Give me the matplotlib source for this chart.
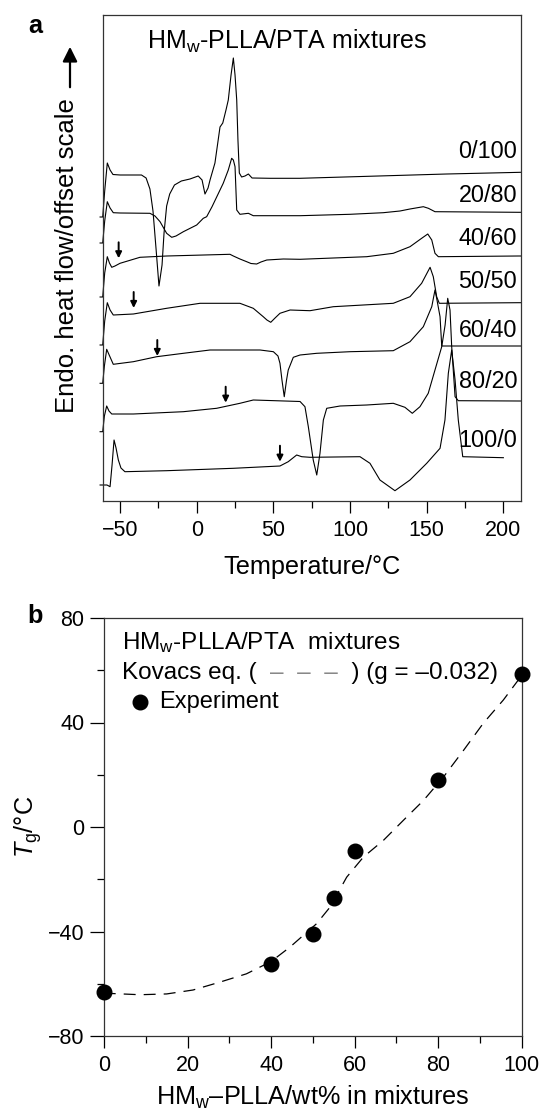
import matplotlib
matplotlib.use('Agg')
import matplotlib.pyplot as plt
from matplotlib.ticker import MultipleLocator

plt.rcParams['font.family'] = ['Liberation Sans', 'DejaVu Sans']
plt.rcParams['mathtext.fontset'] = 'custom'
plt.rcParams['mathtext.rm'] = 'Liberation Sans'
plt.rcParams['mathtext.it'] = 'Liberation Sans:italic'
plt.rcParams['mathtext.bf'] = 'Liberation Sans:bold'
plt.rcParams['lines.scale_dashes'] = False

# ---------------- Panel a data: DSC curves (T in deg C, heat flow in offset units) ----------
t_0_100 = [-63, -61.3, -60, -58.3, -56.5, -54.6, -50, -36, -33, -30.5, -28.5, -26.5, -24.6, -22.6, -21.3,
           -19.6, -17.6, -14.5, -10, -4.4, 1.0, 3.5, 5.4, 7.4, 8.7, 11.9, 15.2, 17.0, 19.1, 20.6, 22.4,
           23.9, 25.0, 26.1, 26.9, 27.8, 29.3, 31.5, 33.7, 36.1, 47.8, 67.4, 163, 211.3]
h_0_100 = [284, 284, 310, 338, 331, 326.5, 326, 326, 323, 312, 290, 252, 215, 236, 268,
           295, 307, 316, 320, 322, 325, 321, 307, 313, 321, 338, 374, 378, 391, 401, 426,
           443, 426, 401, 361, 328, 324, 325, 327, 323, 322.7, 322.7, 327, 328.7]

t_20_80 = [-63, -61.3, -60, -58.3, -56.5, -54.4, -50, -30.5, -27.2, -23.9, -19.6, -16.3, -13.5, -8.7, 0,
           4.3, 6.5, 10.0, 17.3, 20.6, 22.8, 23.9, 25.0, 26.1, 28.2, 33.7, 36.9, 67.4, 100, 121.7,
           132.6, 139.1, 147.8, 151.1, 155.4, 209.8, 211.3]
h_20_80 = [258, 258, 280, 299.3, 293, 288.3, 288, 287.7, 285, 279.3, 267.7, 263.7, 265, 269.3, 276,
           282.7, 284.3, 294.3, 317.7, 331, 342.7, 341, 334.3, 291, 286.7, 287.7, 285.3, 285.3, 286.7, 288.3,
           290, 292, 294.3, 292.7, 289.3, 288.7, 288.7]

t_40_60 = [-63, -61.3, -60, -58.3, -56.9, -55.4, -53.3, -50, -37, -19.6, 21.7, 23.9, 28.2, 32.6, 35.4,
           39.1, 41.9, 45.7, 56.5, 67.4, 110.9, 128.2, 139.1, 146.7, 150.7, 153.3, 155.4, 157.6, 209.8, 211.3]
h_40_60 = [204, 204, 228, 244.3, 238, 233.7, 235, 237.7, 243.7, 245, 246.7, 245, 242, 239.3, 237.5,
           237, 239, 241, 242, 241.7, 244.3, 247.7, 254.3, 262.7, 267, 261, 247.7, 244.3, 245, 245]

t_50_50 = [-63, -61.3, -60, -58.3, -56.5, -54.4, -41.3, -19.6, 2.2, 28.2, 36.9, 43.4, 45.8, 48.3, 51.1,
           54.3, 60.9, 73.9, 89.1, 128.2, 139.1, 146.7, 152.2, 154.3, 156.5, 158.2, 209.8, 211.3]
h_50_50 = [156, 156, 180, 198.3, 191, 186, 187, 192.7, 197.7, 197.7, 192.7, 184.3, 181, 178.7, 183,
           187.7, 191, 190.3, 194.3, 197.7, 204.3, 217.7, 233.7, 224.3, 204.3, 197.7, 198.3, 198.3]

t_60_40 = [-63, -61.3, -60.2, -58.7, -56.5, -54.4, -41.3, -26.1, -8.7, 8.7, 41.3, 50, 53, 54.3, 55.6,
           57.1, 58.6, 59.7, 63, 67.4, 78.3, 100, 128.2, 139.1, 147.8, 153.3, 155.4, 156.5, 158.7, 159.8,
           162, 209.8, 211.3]
h_60_40 = [117.7, 117.7, 135, 151.7, 144, 136.7, 139.3, 144.3, 147.7, 151, 151, 149.3, 145, 137.7, 121,
           104.3, 121, 131, 143.7, 146, 147.7, 149.3, 150.3, 159.3, 174.3, 194.3, 211, 202.7, 184.3, 155,
           155, 155, 155]

t_80_20 = [-63, -61.3, -60.2, -58.7, -57.2, -55.4, -41.3, -8.7, 13, 28.2, 36.9, 67.4, 70.6, 72.8, 76.0,
           78.3, 80.4, 82.6, 84.8, 93.5, 110.9, 128.2, 135.8, 140.6, 145.6, 151, 155.4, 159.8, 162, 163.7,
           165.2, 166.3, 168.5, 170.6, 209.8, 211.3]
h_80_20 = [69.3, 69.3, 85, 95, 90, 87, 87, 89.3, 92.7, 97.7, 101, 99.5, 94.3, 74.3, 41,
           26, 47.7, 81, 92.7, 95, 96, 97.7, 93.7, 87.7, 94.3, 107.7, 131, 154.3, 176, 202.7,
           191, 154.3, 104.3, 100.3, 100, 100]

t_100_0 = [-63, -58.5, -56.5, -55.2, -53.9, -52.6, -51.1, -49.4, -46.8, -19.6, 23.9, 54.3, 59.7, 65.2, 68.5,
           73.9, 106.5, 113, 119.5, 129.3, 139.1, 150, 158.7, 161.9, 164.1, 166.3, 168.5, 170.6, 173.5, 200]
h_100_0 = [16, 16, 14.3, 36, 61, 53, 41, 33, 29.3, 30.3, 32.7, 35, 39.3, 46, 44.3,
           43.7, 44.3, 37.7, 21, 10.3, 21, 37.7, 52.7, 81, 127.7, 151, 121, 81, 44.3, 43.3]

curve_labels = ['0/100', '20/80', '40/60', '50/50', '60/40', '80/20', '100/0']
label_levels = [349.3, 305.3, 262.7, 219.3, 171, 119.3, 61]

# Tg arrows (T position, heat flow at the arrow tip)
arrow_t = [-50.9, -41.1, -25.7, 18.9, 54.3]
arrow_h = [242.7, 193, 145, 98.3, 39.3]

# ---------------- Panel b data -----------------------------------------------------------
exp_x = [0, 40, 50, 55, 60, 80, 100]
exp_tg = [-63, -52.4, -41.1, -27.1, -9.2, 17.9, 58.6]

kov_x = [0, 1.4, 8.6, 15, 21.3, 27.7, 34.1, 40, 44.5, 50.9, 54.1, 58.1, 62.1, 66.9, 71.7,
         76.5, 81.3, 86.1, 90.8, 95.6, 100]
kov_tg = [-63, -63.7, -64.2, -63.9, -62.4, -59.4, -56.2, -51.5, -46, -37, -30.7, -19.2, -11.5, -5.1, 2.6,
          10.2, 19.2, 29.4, 39.7, 48.6, 58]

# ---------------- figure -------------------------------------------------------------------
W, H = 539, 1110
fig = plt.figure(figsize=(W / 100, H / 100), dpi=100)


def fx(px):
    return px / W


def fy(py):
    return 1 - py / H


TICK = 15.5
LAB = 18.2
TXT = 16.8

# Panel a
axa = fig.add_axes([fx(102.7), fy(501), fx(520.7) - fx(102.7), fy(15) - fy(501)])
curves = [(t_0_100, h_0_100), (t_20_80, h_20_80), (t_40_60, h_40_60), (t_50_50, h_50_50),
          (t_60_40, h_60_40), (t_80_20, h_80_20), (t_100_0, h_100_0)]
for t, h in curves:
    axa.plot(t, h, color='black', lw=0.8, clip_on=False, solid_joinstyle='round')
axa.set_xlim(-61.3, 211.3)
axa.set_ylim(0, 486)
axa.xaxis.set_major_locator(MultipleLocator(50))
axa.xaxis.set_minor_locator(MultipleLocator(25))
axa.set_yticks([])
axa.tick_params(axis='x', which='major', direction='out', length=8.5, width=0.9, labelsize=TICK, pad=5)
axa.tick_params(axis='x', which='minor', direction='out', length=5, width=0.9)
for s in axa.spines.values():
    s.set_linewidth(0.9)
    s.set_color('#333333')
axa.set_xlabel('Temperature/°C', fontsize=LAB, labelpad=10)

for lab, lev in zip(curve_labels, label_levels):
    axa.text(209, lev, lab, ha='right', va='center', fontsize=TXT)

for t, h in zip(arrow_t, arrow_h):
    axa.annotate('', xy=(t, h), xytext=(t, h + 16),
                 arrowprops=dict(arrowstyle='-|>', color='black', lw=1.4, mutation_scale=9,
                                 shrinkA=0, shrinkB=0))

fig.text(fx(146.7), fy(41.7), r'HM$_\mathrm{w}$-PLLA/PTA mixtures', fontsize=18,
         ha='left', va='center')
fig.text(fx(67), fy(256), 'Endo. heat flow/offset scale', rotation=90, fontsize=LAB + 0.3,
         ha='center', va='center')
fig.add_artist(matplotlib.patches.FancyArrowPatch((fx(70), fy(90)), (fx(70), fy(44)),
                                                  transform=fig.transFigure, arrowstyle='-|>',
                                                  mutation_scale=22, lw=1.6, color='black'))
fig.text(fx(35), fy(26), 'a', fontsize=LAB, fontweight='bold', ha='center', va='center')

# Panel b
axb = fig.add_axes([fx(104), fy(1036), fx(521.7) - fx(104), fy(618) - fy(1036)])
axb.plot(kov_x, kov_tg, color='black', lw=0.9, dashes=(8.6, 5.8))
axb.plot(exp_x, exp_tg, 'o', color='black', ms=10.5, clip_on=False, zorder=5)
axb.set_xlim(0, 100)
axb.set_ylim(-80, 80)
axb.xaxis.set_major_locator(MultipleLocator(20))
axb.xaxis.set_minor_locator(MultipleLocator(10))
axb.yaxis.set_major_locator(MultipleLocator(40))
axb.yaxis.set_minor_locator(MultipleLocator(20))
axb.tick_params(which='major', direction='out', length=8.5, width=0.9, labelsize=TICK, pad=5)
axb.tick_params(axis='y', which='major', length=10, pad=4)
axb.tick_params(which='minor', direction='out', length=5, width=0.9)
for s in axb.spines.values():
    s.set_linewidth(0.9)
    s.set_color('#333333')
axb.set_xlabel(r'HM$_\mathrm{w}$–PLLA/wt% in mixtures', fontsize=LAB, labelpad=6)
axb.set_ylabel(r'$T_\mathrm{g}$/°C', fontsize=LAB, labelpad=3)

fig.text(fx(121.7), fy(643), r'HM$_\mathrm{w}$-PLLA/PTA  mixtures', fontsize=17.5,
         ha='left', va='center')

# Kovacs line composed of segments (dashes drawn in grey)
renderer = fig.canvas.get_renderer()
segs = [('Kovacs eq. (  ', 'black'), ('–  –  –', '#888888'), ('  ) (g = –0.032)', 'black')]
xcur = fx(121.7)
for s, c in segs:
    tt = fig.text(xcur, fy(673), s, fontsize=17.5, ha='left', va='center', color=c)
    bb = tt.get_window_extent(renderer=renderer)
    xcur = bb.x1 / W
fig.lines.append(matplotlib.lines.Line2D([fx(140)], [fy(701.7)], marker='o', color='black',
                                         ms=10.5, transform=fig.transFigure))
fig.text(fx(159), fy(701.7), 'Experiment', fontsize=17, ha='left', va='center')
fig.text(fx(35), fy(616), 'b', fontsize=LAB, fontweight='bold', ha='center', va='center')

fig.savefig('out.png', dpi=100)
